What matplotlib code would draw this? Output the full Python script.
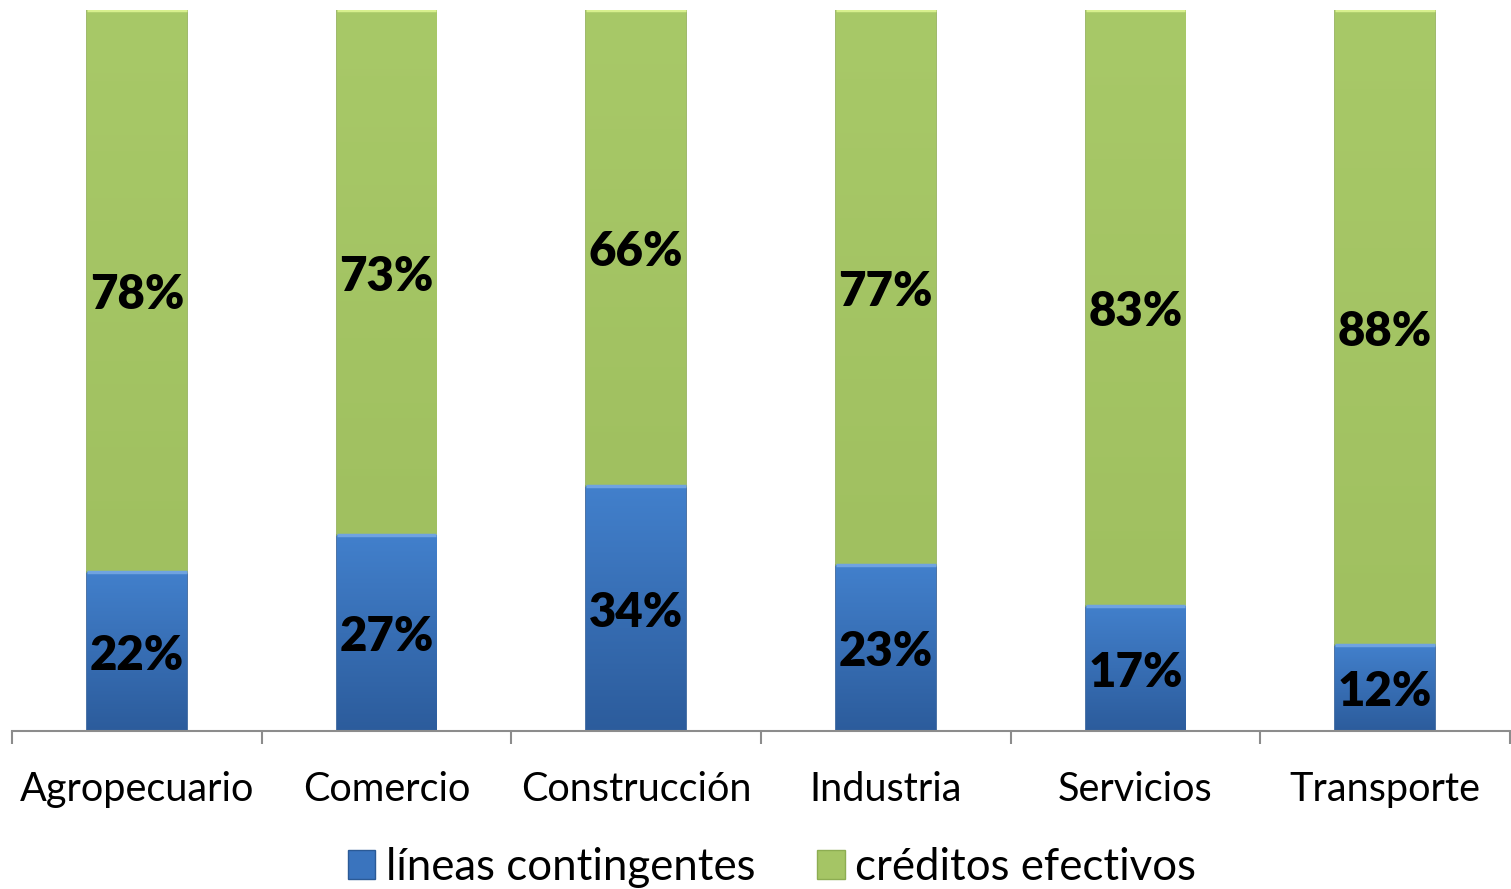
import numpy as np
import matplotlib.pyplot as plt
from matplotlib.patches import Patch
from matplotlib.colors import LinearSegmentedColormap

plt.rcParams['font.family'] = ['Lato', 'DejaVu Sans']

# Datos
sectores = ['Agropecuario', 'Comercio', 'Construcción', 'Industria', 'Servicios', 'Transporte']
lineas = [22.1, 27.2, 34.0, 23.0, 17.4, 11.9]
creditos = [77.9, 72.8, 66.0, 77.0, 82.6, 88.1]
series = ['líneas contingentes', 'créditos efectivos']

azul = '#3A74BE'
verde = '#A5C565'

fig = plt.figure(figsize=(15.11, 8.89), dpi=100)
ax = fig.add_axes([12 / 1511, 1 - 731 / 889, 1498 / 1511, 721 / 889])

x = np.arange(len(sectores))
w = 0.4

def gradient_bars(bars, top, bottom):
    # relleno con degradado vertical recortado a cada barra
    grad = np.linspace(0, 1, 256).reshape(-1, 1)
    cmap = LinearSegmentedColormap.from_list('g', [bottom, top])
    for b in bars:
        x0, y0 = b.get_x(), b.get_y()
        x1, y1 = x0 + b.get_width(), y0 + b.get_height()
        im = ax.imshow(grad, cmap=cmap, aspect='auto', origin='lower',
                       extent=[x0, x1, y0, y1], zorder=2)
        im.set_clip_path(b)

b1 = ax.bar(x, lineas, w, color=azul, edgecolor='#2B5A96', linewidth=1.2, zorder=2)
b2 = ax.bar(x, creditos, w, bottom=lineas, color=verde, edgecolor='#8DAD52',
            linewidth=1.2, zorder=2)
gradient_bars(b1, '#4280CC', '#2C5C9C')
gradient_bars(b2, '#A8C968', '#A0C060')

# franjas claras arriba de cada segmento (efecto bisel)
for i in x:
    ax.plot([i - w / 2, i + w / 2], [lineas[i], lineas[i]], color='#6FA3E0', lw=2.5, zorder=3,
            solid_capstyle='butt')
    ax.plot([i - w / 2, i + w / 2], [100, 100], color='#D8F08E', lw=2.5, zorder=3,
            solid_capstyle='butt')

for i in x:
    ax.text(i, lineas[i] / 2 - 0.6, f'{lineas[i]:.0f}%', ha='center', va='center',
            fontsize=34, fontweight='heavy', zorder=4)
    ax.text(i, lineas[i] + creditos[i] / 2 - 0.6, f'{creditos[i]:.0f}%', ha='center',
            va='center', fontsize=34, fontweight='heavy', zorder=4)

ax.set_xlim(-0.5, len(sectores) - 0.5)
ax.set_ylim(0, 100)
ax.set_yticks([])
for s in ['top', 'right', 'left']:
    ax.spines[s].set_visible(False)
ax.spines['bottom'].set_color('#8C8C8C')
ax.spines['bottom'].set_linewidth(1.5)

ax.set_xticks(x)
ax.set_xticklabels(sectores, fontsize=28.5)
ax.tick_params(axis='x', which='major', length=0, pad=29)
ax.set_xticks(np.arange(-0.5, len(sectores)), minor=True)
ax.tick_params(axis='x', which='minor', length=9, width=1.5, color='#8C8C8C')

handles = [Patch(facecolor=azul, edgecolor='#2B5A96'), Patch(facecolor=verde, edgecolor='#8DAD52')]
fig.legend(handles, series, loc='lower center', ncol=2, frameon=False, fontsize=31.5,
           bbox_to_anchor=(0.511, -0.043), handlelength=0.63, handleheight=0.63,
           handletextpad=0.25, columnspacing=1.4)

fig.savefig('out.png', dpi=100)
